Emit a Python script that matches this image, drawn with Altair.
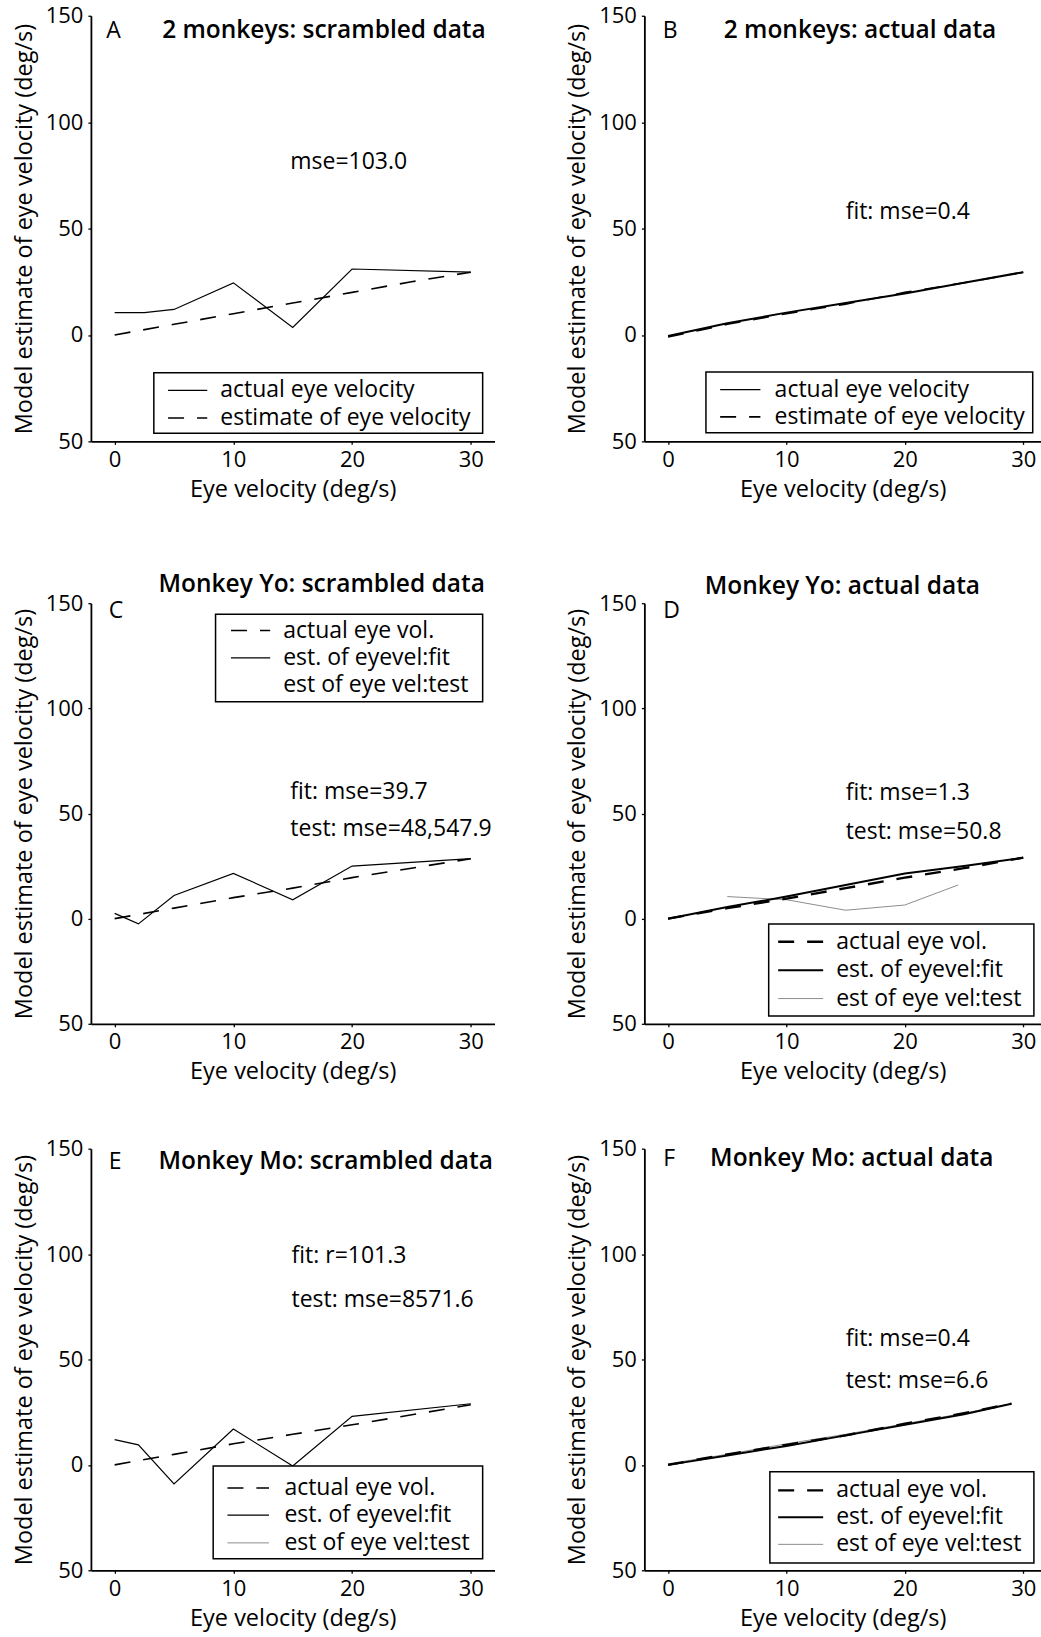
import altair as alt
import pandas as pd

FONT = "Open Sans"

# ---------------- data ----------------
# Panel A: 2 monkeys, scrambled data
a_act_x = [0, 2.5, 5, 10, 15, 20, 30]
a_act_y = [10.5, 10.5, 12, 24.5, 3.5, 31, 29.5]
a_est_x = [0, 5, 10, 15, 20, 25, 30]
a_est_y = [0, 5, 10, 15, 20, 25, 29.5]

# Panel B: 2 monkeys, actual data
b_act_x = [0, 5, 10, 15, 20, 25, 30]
b_act_y = [-0.5, 5.5, 10.5, 15, 19.5, 24.5, 29.5]
b_est_x = [0, 5, 10, 15, 20, 25, 30]
b_est_y = [-1, 5, 10, 14.5, 20, 24.5, 29.5]

# Panel C: Monkey Yo, scrambled data
c_act_x = [0, 2, 5, 10, 15, 20, 30]
c_act_y = [0, 2, 5, 10, 14.5, 19.5, 28.5]
c_fit_x = [0, 2, 5, 10, 15, 20, 30]
c_fit_y = [2.5, -2.5, 11, 21.5, 9, 25, 28.5]

# Panel D: Monkey Yo, actual data
d_act_x = [0, 5, 10, 15, 20, 25, 30]
d_act_y = [0, 5, 9.5, 14.5, 19.5, 24, 29]
d_fit_x = [0, 5, 10, 15, 20, 25, 30]
d_fit_y = [0, 5.5, 10.5, 16, 21.5, 25, 29]
d_test_x = [5, 10, 15, 20, 24.5]
d_test_y = [10.5, 9, 4, 6.5, 16]

# Panel E: Monkey Mo, scrambled data
e_act_x = [0, 2, 5, 10, 15, 20, 30]
e_act_y = [0, 2, 5, 10, 14.5, 19, 28.5]
e_fit_x = [0, 2, 5, 10, 15, 20, 30]
e_fit_y = [12, 9.5, -9, 17, -0.5, 23, 29]

# Panel F: Monkey Mo, actual data
f_act_x = [0, 5, 10, 15, 20, 25, 29]
f_act_y = [0, 5, 9.5, 14, 19.5, 24.5, 29]
f_fit_x = [0, 5, 10, 15, 20, 25, 29]
f_fit_y = [0, 4.5, 9, 14, 19, 24, 29]
f_test_x = [0, 5, 10, 15, 20, 25, 29]
f_test_y = [0.5, 5, 10, 14.5, 19.5, 24.5, 29]

x_ticks = [0, 10, 20, 30]
y_ticks = [-50, 0, 50, 100, 150]

# ---------------- styles ----------------
STYLES = {
    "solid": dict(color="black", strokeWidth=1.2),
    "solid_thick": dict(color="black", strokeWidth=2.0),
    "dash": dict(color="black", strokeWidth=1.6, strokeDash=[16, 13]),
    "dash_thick": dict(color="black", strokeWidth=2.4, strokeDash=[16, 13]),
    "thin": dict(color="#8c8c8c", strokeWidth=1.0),
    "none": None,
}

panels = {
    "A": dict(
        lines=[("solid", a_act_x, a_act_y), ("dash", a_est_x, a_est_y)],
        letter=("A", -0.7, 143), title=("2 monkeys: scrambled data", 4.0, 143),
        notes=[("mse=103.0", 14.8, 81.2)],
        box=(3.3, 31.0, -17.7, -46.2), sample=(4.5, 7.8), text_x=8.9,
        rows=[("solid", "actual eye velocity", -26),
              ("dash", "estimate of eye velocity", -39)]),
    "B": dict(
        lines=[("solid_thick", b_act_x, b_act_y), ("dash", b_est_x, b_est_y)],
        letter=("B", -0.45, 143), title=("2 monkeys: actual data", 4.7, 143),
        notes=[("fit: mse=0.4", 15.0, 57.7)],
        box=(3.2, 30.8, -17.4, -46), sample=(4.4, 7.8), text_x=9.0,
        rows=[("solid", "actual eye velocity", -25.7),
              ("dash", "estimate of eye velocity", -38.5)]),
    "C": dict(
        lines=[("dash", c_act_x, c_act_y), ("solid", c_fit_x, c_fit_y)],
        letter=("C", -0.5, 146.5), title=("Monkey Yo: scrambled data", 3.7, 158.6),
        notes=[("fit: mse=39.7", 14.8, 60), ("test: mse=48,547.9", 14.8, 42.4)],
        box=(8.5, 31.0, 144.8, 103.2), sample=(9.8, 13.1), text_x=14.2,
        rows=[("dash", "actual eye vol.", 137),
              ("solid", "est. of eyevel:fit", 124),
              ("none", "est of eye vel:test", 111)]),
    "D": dict(
        lines=[("thin", d_test_x, d_test_y), ("dash_thick", d_act_x, d_act_y),
               ("solid_thick", d_fit_x, d_fit_y)],
        letter=("D", -0.4, 146.4), title=("Monkey Yo: actual data", 3.1, 157.6),
        notes=[("fit: mse=1.3", 15.0, 59.8), ("test: mse=50.8", 15.0, 41.3)],
        box=(8.5, 30.9, -2.5, -46.3), sample=(9.3, 13.1), text_x=14.2,
        rows=[("dash_thick", "actual eye vol.", -11),
              ("solid_thick", "est. of eyevel:fit", -24.5),
              ("thin", "est of eye vel:test", -38)]),
    "E": dict(
        lines=[("dash", e_act_x, e_act_y), ("solid", e_fit_x, e_fit_y)],
        letter=("E", -0.5, 143.6), title=("Monkey Mo: scrambled data", 3.7, 143.6),
        notes=[("fit: r=101.3", 14.9, 99), ("test: mse=8571.6", 14.9, 78.4)],
        box=(8.3, 31.0, -0.5, -44.5), sample=(9.5, 13.0), text_x=14.3,
        rows=[("dash", "actual eye vol.", -11),
              ("solid", "est. of eyevel:fit", -23.8),
              ("thin", "est of eye vel:test", -37)]),
    "F": dict(
        lines=[("thin", f_test_x, f_test_y), ("dash_thick", f_act_x, f_act_y),
               ("solid_thick", f_fit_x, f_fit_y)],
        letter=("F", -0.4, 145), title=("Monkey Mo: actual data", 3.55, 145),
        notes=[("fit: mse=0.4", 15.0, 59.6), ("test: mse=6.6", 15.0, 39.7)],
        box=(8.6, 30.9, -3.3, -46.5), sample=(9.3, 13.1), text_x=14.2,
        rows=[("dash_thick", "actual eye vol.", -12.1),
              ("solid_thick", "est. of eyevel:fit", -24.8),
              ("thin", "est of eye vel:test", -37.7)]),
}

TXT = 23


def make_panel(key, xdom, width, height):
    p = panels[key]
    xs = alt.Scale(domain=xdom, nice=False, zero=False)
    ys = alt.Scale(domain=[-50, 150], nice=False, zero=False)
    xaxis = alt.Axis(values=x_ticks, title="Eye velocity (deg/s)", labelPadding=5,
                     titlePadding=7, tickSize=3)
    yaxis = alt.Axis(values=y_ticks, title="Model estimate of eye velocity (deg/s)",
                     labelExpr="'' + abs(datum.value)", tickSize=3, labelPadding=5,
                     titlePadding=9)

    def X(f="x:Q"):
        return alt.X(f, scale=xs, axis=xaxis)

    def Y(f="y:Q"):
        return alt.Y(f, scale=ys, axis=yaxis)

    layers = []
    for style, lx, ly in p["lines"]:
        df = pd.DataFrame({"x": lx, "y": ly})
        st = STYLES[style]
        layers.append(alt.Chart(df).mark_line(**st).encode(x=X(), y=Y()))
    bx1, bx2, by1, by2 = p["box"]
    box_df = pd.DataFrame({"x": [bx1], "x2": [bx2], "y": [by1], "y2": [by2]})
    layers.append(
        alt.Chart(box_df).mark_rect(fill="white", stroke="black", strokeWidth=1.5).encode(
            x=X(), x2="x2:Q", y=Y(), y2="y2:Q")
    )
    s1, s2 = p["sample"]
    for style, label, ry in p["rows"]:
        st = STYLES[style]
        if st is not None:
            sdf = pd.DataFrame({"x": [s1], "x2": [s2], "y": [ry]})
            layers.append(
                alt.Chart(sdf).mark_rule(**st).encode(x=X(), x2="x2:Q", y=Y())
            )
    leg_df = pd.DataFrame({"t": [r[1] for r in p["rows"]],
                           "x": [p["text_x"]] * len(p["rows"]),
                           "y": [r[2] for r in p["rows"]]})
    layers.append(
        alt.Chart(leg_df).mark_text(align="left", baseline="middle", font=FONT,
                                    fontSize=TXT, color="black").encode(
            x=X(), y=Y(), text="t:N")
    )
    notes_df = pd.DataFrame({"t": [n[0] for n in p["notes"]],
                             "x": [n[1] for n in p["notes"]],
                             "y": [n[2] for n in p["notes"]]})
    layers.append(
        alt.Chart(notes_df).mark_text(align="left", baseline="middle", font=FONT,
                                      fontSize=TXT, color="black").encode(
            x=X(), y=Y(), text="t:N")
    )
    lt, lxp, lyp = p["letter"]
    let_df = pd.DataFrame({"t": [lt], "x": [lxp], "y": [lyp]})
    layers.append(
        alt.Chart(let_df).mark_text(align="left", baseline="middle", font=FONT,
                                    fontSize=23, color="black").encode(
            x=X(), y=Y(), text="t:N")
    )
    tt, txp, typ = p["title"]
    tit_df = pd.DataFrame({"t": [tt], "x": [txp], "y": [typ]})
    layers.append(
        alt.Chart(tit_df).mark_text(align="left", baseline="middle", font=FONT,
                                    fontSize=24.5, fontWeight=600, color="black").encode(
            x=X(), y=Y(), text="t:N")
    )
    return alt.layer(*layers).properties(width=width, height=height)


L_DOM, L_W = [-2, 32], 404
R_DOM, R_W = [-2, 31.5], 397

row1 = alt.hconcat(make_panel("A", L_DOM, L_W, 426), make_panel("B", R_DOM, R_W, 426), spacing=71)
row2 = alt.hconcat(make_panel("C", L_DOM, L_W, 421), make_panel("D", R_DOM, R_W, 421), spacing=71)
row3 = alt.hconcat(make_panel("E", L_DOM, L_W, 422), make_panel("F", R_DOM, R_W, 422), spacing=71)

top = alt.vconcat(row1, row2, spacing=70)
chart = alt.vconcat(top, row3, spacing=54).properties(
    padding={"left": 12, "top": 4, "right": 0, "bottom": 6},
    background="white",
).configure_view(stroke=None).configure_axis(
    grid=False, domainColor="black", domainWidth=1.8, tickColor="black", tickWidth=1.3,
    labelFont=FONT, labelFontSize=22, labelColor="black",
    titleFont=FONT, titleFontSize=23.5, titleFontWeight="normal", titleColor="black",
)

chart.save("out.html", embed_options={"renderer": "svg", "actions": False})
